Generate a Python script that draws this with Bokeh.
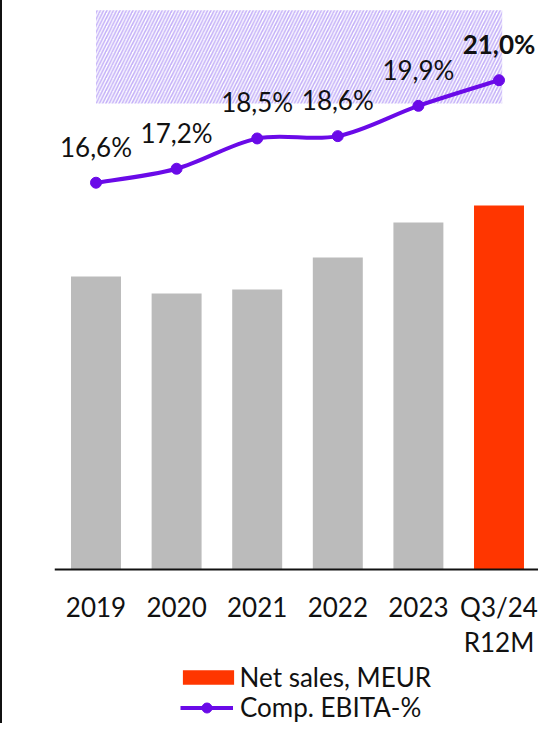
import numpy as np
from bokeh.plotting import figure
from bokeh.models import ColumnDataSource, Range1d, Legend, LegendItem, Span
from bokeh.core.properties import value, field
from bokeh.embed import file_html
from bokeh.resources import INLINE

# ---- data ----
categories = ["2019", "2020", "2021", "2022", "2023", "Q3/24\nR12M"]
net_sales = [293, 276, 280, 312, 347, 364]
ebita_pct = [16.6, 17.2, 18.5, 18.6, 19.9, 21.0]
pct_labels = ["16,6%", "17,2%", "18,5%", "18,6%", "19,9%", "21,0%"]
target_low = 20.0
target_high = 24.0
bar_colors = ["#bbbbbb", "#bbbbbb", "#bbbbbb", "#bbbbbb", "#bbbbbb", "#ff3600"]
label_styles = ["normal", "normal", "normal", "normal", "normal", "bold"]

PURPLE = "#6a0ae8"
FONT = "Lato"

xs = [i + 0.5 for i in range(len(categories))]
zeros = [0 for _ in categories]
cat_line1 = [c.split("\n")[0] for c in categories]
cat_line2 = [c.split("\n")[1] if "\n" in c else "" for c in categories]

p = figure(width=538, height=723, output_backend="svg", toolbar_location=None,
           x_range=Range1d(-0.0149, 6.0149), y_range=Range1d(-154, 569),
           x_axis_location=None, y_axis_location=None,
           min_border_left=52, min_border_right=0,
           min_border_top=0, min_border_bottom=0,
           styles={"border-left": "2px solid #111"})
p.extra_y_ranges = {"pct": Range1d(-6.609, 24.421)}
p.xgrid.visible = False
p.ygrid.visible = False
p.outline_line_color = None

# target band
p.quad(left=[xs[0]], right=[xs[-1] + 0.04], bottom=[target_low], top=[target_high],
       y_range_name="pct", fill_color=None, line_color=None,
       hatch_pattern="/", hatch_color="#c4b0f8", hatch_scale=6.5, hatch_weight=1.6)

# bars
bars = p.vbar(x=xs, top=net_sales, width=0.62, color=bar_colors, line_color=None)

# baseline (x axis line)
p.add_layout(Span(location=0, dimension="width", line_color="#111111", line_width=2))

# category labels
cat_style = dict(text_align="center", text_baseline="alphabetic",
                 text_font=value(FONT), text_font_size="26px", text_color="#111111")
p.text(x=xs, y=zeros, text=cat_line1, y_offset=37, **cat_style)
p.text(x=xs, y=zeros, text=cat_line2, y_offset=72, **cat_style)

# smooth line (Catmull-Rom as bezier segments)
x = np.array(xs, dtype=float)
y = np.array(ebita_pct, dtype=float)
xp = np.concatenate([[x[0]], x, [x[-1]]])
yp = np.concatenate([[y[0]], y, [y[-1]]])
bz = dict(x0=[], y0=[], x1=[], y1=[], cx0=[], cy0=[], cx1=[], cy1=[])
for i in range(len(x) - 1):
    p0x, p1x, p2x, p3x = xp[i], xp[i + 1], xp[i + 2], xp[i + 3]
    p0y, p1y, p2y, p3y = yp[i], yp[i + 1], yp[i + 2], yp[i + 3]
    bz["x0"].append(p1x); bz["y0"].append(p1y)
    bz["x1"].append(p2x); bz["y1"].append(p2y)
    bz["cx0"].append(p1x + (p2x - p0x) / 6); bz["cy0"].append(p1y + (p2y - p0y) / 6)
    bz["cx1"].append(p2x - (p3x - p1x) / 6); bz["cy1"].append(p2y - (p3y - p1y) / 6)
curve = p.bezier(x0="x0", y0="y0", x1="x1", y1="y1", cx0="cx0", cy0="cy0",
                 cx1="cx1", cy1="cy1", source=ColumnDataSource(bz),
                 y_range_name="pct", line_color=PURPLE, line_width=4)
dots = p.scatter(x=xs, y=ebita_pct, size=11, color=PURPLE, y_range_name="pct")

# value labels
lsrc = ColumnDataSource(dict(x=xs, y=ebita_pct, t=pct_labels, s=label_styles))
p.text(x="x", y="y", text="t", source=lsrc, y_range_name="pct",
       text_align="center", text_baseline="alphabetic", y_offset=-36,
       text_font=value(FONT), text_font_size="26px", text_color="#111111",
       text_font_style=field("s"))

# legends
common = dict(padding=0, spacing=0, margin=0, border_line_color=None,
              background_fill_alpha=0, label_text_font=FONT,
              label_text_font_size="26px", label_text_color="#111111")
leg1 = Legend(items=[LegendItem(label="Net sales, MEUR", renderers=[bars], index=5)],
              location=(121.6, 30), glyph_width=64, glyph_height=18,
              label_standoff=0, label_height=18, **common)
leg2 = Legend(items=[LegendItem(label="Comp. EBITA-%", renderers=[curve, dots])],
              location=(126, 0), glyph_width=53, glyph_height=25,
              label_standoff=7, label_height=25, **common)
p.add_layout(leg1, "center")
p.add_layout(leg2, "center")

open("out.html", "w").write(file_html(p, INLINE))
